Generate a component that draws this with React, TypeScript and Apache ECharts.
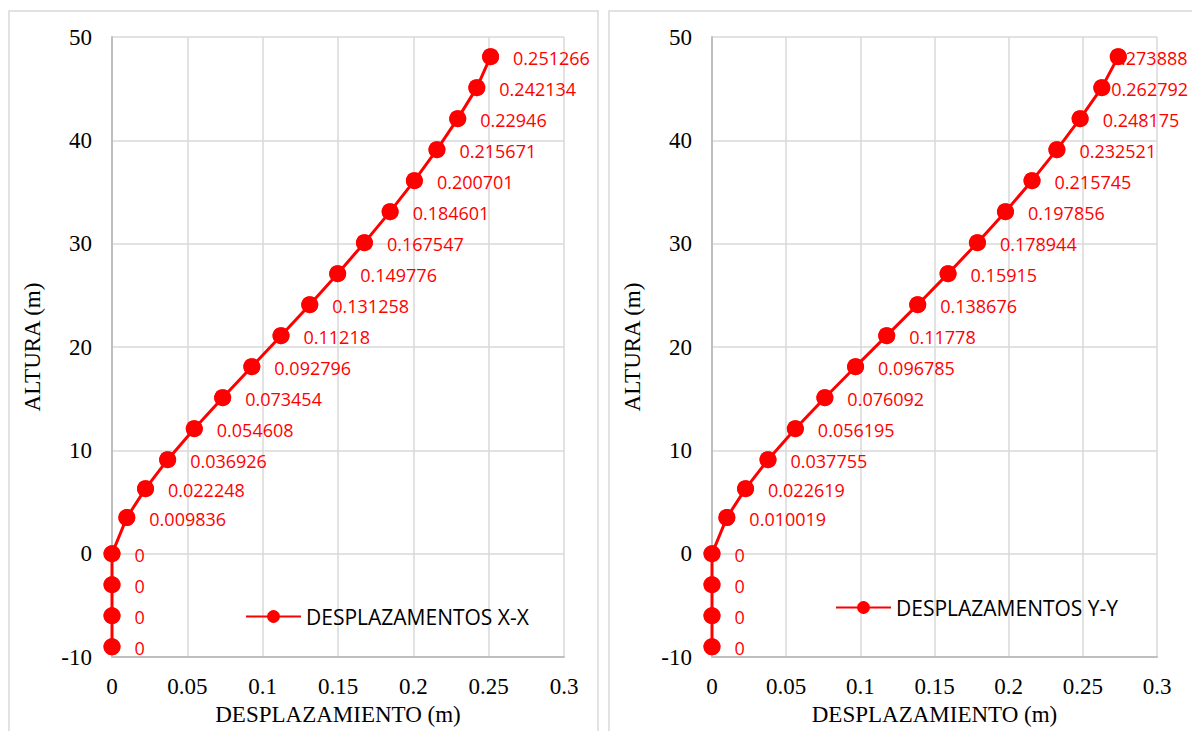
import React, { useEffect, useRef } from "react";
import * as echarts from "echarts";

const heights = [-9, -6, -3, 0, 3.5, 6.3, 9.1, 12.1, 15.1, 18.1, 21.1, 24.1, 27.1, 30.1, 33.1, 36.1, 39.1, 42.1, 45.1, 48.1];
const dispX = [0, 0, 0, 0, 0.009836, 0.022248, 0.036926, 0.054608, 0.073454, 0.092796, 0.11218, 0.131258, 0.149776, 0.167547, 0.184601, 0.200701, 0.215671, 0.22946, 0.242134, 0.251266];
const dispY = [0, 0, 0, 0, 0.010019, 0.022619, 0.037755, 0.056195, 0.076092, 0.096785, 0.11778, 0.138676, 0.15915, 0.178944, 0.197856, 0.215745, 0.232521, 0.248175, 0.262792, 0.273888];
const seriesNames = ["DESPLAZAMENTOS X-X", "DESPLAZAMENTOS Y-Y"];
const xTitle = "DESPLAZAMIENTO (m)";
const yTitle = "ALTURA (m)";

const RED = "#FF0000";
const SERIF = "'Liberation Serif', 'Times New Roman', serif";
const SANS = "'Open Sans', 'Noto Sans', sans-serif";

// label shifts (Excel pushed labels inward near the chart edge)
const rightLabelShift: Record<number, number> = { 18: -13, 19: -30 };

function makeAxes(gridIndex: number) {
  const xAxis = {
    type: "value",
    gridIndex,
    min: 0,
    max: 0.3,
    interval: 0.05,
    name: xTitle,
    nameLocation: "middle",
    nameGap: 42,
    nameTextStyle: { fontFamily: SERIF, fontSize: 23, color: "#000" },
    axisLine: { show: true, onZero: false, lineStyle: { color: "#bfbfbf", width: 2 } },
    axisTick: { show: false },
    splitLine: { show: true, lineStyle: { color: "#d9d9d9", width: 1.5 } },
    axisLabel: { fontFamily: SERIF, fontSize: 23, color: "#000", margin: 18 },
  };
  const yAxis = {
    type: "value",
    gridIndex,
    min: -10,
    max: 50,
    interval: 10,
    name: yTitle,
    nameLocation: "middle",
    nameRotate: 90,
    nameGap: 68,
    nameTextStyle: { fontFamily: SERIF, fontSize: 23, color: "#000" },
    axisLine: { show: true, onZero: false, lineStyle: { color: "#bfbfbf", width: 2 } },
    axisTick: { show: false },
    splitLine: { show: true, lineStyle: { color: "#d9d9d9", width: 1.5 } },
    axisLabel: { fontFamily: SERIF, fontSize: 23, color: "#000", margin: 20 },
  };
  return { xAxis, yAxis };
}

function makeSeries(idx: number, disp: number[], shifts: Record<number, number>) {
  const data = heights.map((h, i) => {
    const item: any = { value: [disp[i], h] };
    if (shifts[i] !== undefined) item.label = { offset: [shifts[i], 1] };
    return item;
  });
  return [
    {
      name: seriesNames[idx],
      type: "line",
      xAxisIndex: idx,
      yAxisIndex: idx,
      data,
      symbol: "circle",
      symbolSize: 17,
      z: 2,
      lineStyle: { color: RED, width: 3 },
      itemStyle: { color: RED },
      label: {
        show: true,
        position: "right",
        distance: 14,
        offset: [0, 1],
        color: RED,
        fontSize: 18,
        fontFamily: SANS,
        formatter: (p: any) => String(p.value[0]),
      },
    },
    {
      name: seriesNames[idx] + " markers",
      type: "scatter",
      xAxisIndex: idx,
      yAxisIndex: idx,
      data: heights.map((h, i) => [disp[i], h]),
      symbol: "circle",
      symbolSize: 17,
      z: 5,
      silent: true,
      itemStyle: { color: RED },
      label: { show: false },
    },
  ];
}

export default function App() {
  const ref = useRef<HTMLDivElement>(null);
  useEffect(() => {
    const chart = echarts.init(ref.current!, null, { renderer: "svg" });
    const a0 = makeAxes(0);
    const a1 = makeAxes(1);
    chart.setOption({
      animation: false,
      backgroundColor: "#fff",
      graphic: [
        { type: "rect", shape: { x: 9, y: 11, width: 589, height: 760 }, style: { fill: "none", stroke: "#d9d9d9", lineWidth: 1.5 }, silent: true },
        { type: "rect", shape: { x: 609, y: 11, width: 620, height: 760 }, style: { fill: "none", stroke: "#d9d9d9", lineWidth: 1.5 }, silent: true },
      ],
      grid: [
        { left: 112, top: 37, width: 452, height: 628 },
        { left: 712, top: 37, width: 445, height: 628 },
      ],
      xAxis: [a0.xAxis, a1.xAxis],
      yAxis: [a0.yAxis, a1.yAxis],
      legend: [
        {
          data: [seriesNames[0]],
          left: 240,
          top: 601,
          itemWidth: 55,
          itemHeight: 16,
          itemGap: 5,
          textStyle: { fontFamily: SANS, fontSize: 21, color: "#000" },
        },
        {
          data: [seriesNames[1]],
          left: 830,
          top: 592,
          itemWidth: 55,
          itemHeight: 16,
          itemGap: 5,
          textStyle: { fontFamily: SANS, fontSize: 21, color: "#000" },
        },
      ],
      series: [...makeSeries(0, dispX, {}), ...makeSeries(1, dispY, rightLabelShift)],
    });
    return () => chart.dispose();
  }, []);
  return (
    <div
      ref={ref}
      style={{ position: "absolute", left: 0, top: 0, width: 1192, height: 731, background: "#fff" }}
    />
  );
}
